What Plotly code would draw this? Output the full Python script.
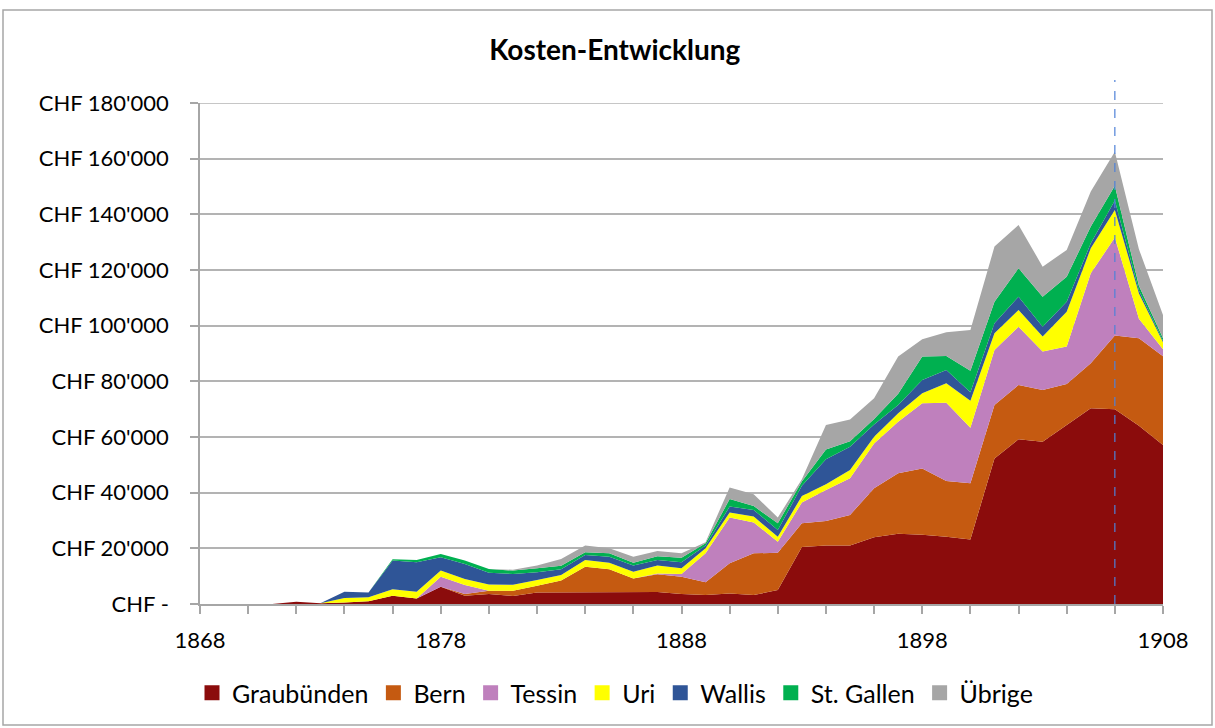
import plotly.graph_objects as go

years = list(range(1868, 1909))

graubuenden = [0, 0, 0, 0, 800, 300, 500, 1000, 3000, 2000,
               6200, 3000, 3600, 2900, 4100, 4100, 4100, 4100, 4200, 4300,
               3600, 3200, 3800, 3200, 5000, 20500, 21000, 21000, 24000, 25200,
               24900, 24200, 23200, 52300, 59200, 58300, 64300, 70300, 70000, 64000,
               57100]
bern = [0, 0, 0, 0, 0, 0, 0, 0, 0, 0,
        0, 600, 1200, 1900, 2500, 4300, 9300, 8400, 5000, 6400,
        6200, 4600, 10800, 15000, 13400, 8500, 8800, 11000, 17600, 21800,
        23800, 20000, 20200, 19200, 19500, 18600, 14700, 16200, 26500, 31500,
        31900]
tessin = [0, 0, 0, 0, 0, 0, 0, 0, 0, 0,
          3600, 3200, 0, 0, 0, 0, 0, 0, 0, 300,
          1000, 10400, 16500, 11100, 4000, 7500, 11200, 13200, 16100, 18500,
          23400, 28100, 19900, 19800, 20900, 13800, 13500, 32300, 35200, 7000,
          2500]
uri = [0, 0, 0, 0, 0, 0, 1700, 1400, 2300, 2400,
       2200, 2200, 2200, 2100, 2000, 2000, 2400, 2300, 2400, 2800,
       2000, 1800, 1800, 2100, 1800, 2300, 2000, 2900, 2400, 3000,
       3600, 7000, 9700, 6000, 6000, 5400, 12500, 9000, 9900, 9100,
       2500]
wallis = [0, 0, 0, 0, 0, 0, 2200, 1700, 10300, 10600,
          4800, 5400, 4200, 3900, 2800, 2100, 1800, 2200, 2200, 2000,
          2200, 1000, 2100, 2400, 2400, 3700, 9000, 8400, 4400, 3000,
          4800, 4800, 3100, 3600, 4800, 3500, 3600, 1800, 3400, 1000,
          600]
st_gallen = [0, 0, 0, 0, 0, 0, 0, 0, 500, 800,
             1200, 1200, 1400, 1200, 1400, 1200, 1000, 1200, 1000, 1400,
             1600, 800, 2700, 1400, 2400, 1500, 3500, 2000, 2000, 4000,
             8400, 5000, 7700, 7700, 10200, 10800, 9000, 6000, 5300, 1700,
             900]
uebrige = [0, 0, 0, 0, 0, 0, 0, 0, 0, 0,
           0, 0, 0, 300, 1000, 2500, 2400, 1800, 2200, 1800,
           1600, 400, 4200, 4200, 2100, 800, 8800, 7800, 7400, 13400,
           6200, 8500, 14600, 19800, 15600, 10800, 9600, 12600, 12200, 13200,
           8300]

series_names = ["Graubünden", "Bern", "Tessin", "Uri", "Wallis", "St. Gallen", "Übrige"]
series_values = [graubuenden, bern, tessin, uri, wallis, st_gallen, uebrige]
series_colors = ["#8B0C0C", "#C55A11", "#BF80BD", "#FFFF00", "#2F5597", "#00B050", "#A6A6A6"]

y_tick_values = [0, 20000, 40000, 60000, 80000, 100000, 120000, 140000, 160000, 180000]
y_tick_labels = ["CHF -", "CHF 20'000", "CHF 40'000", "CHF 60'000", "CHF 80'000",
                 "CHF 100'000", "CHF 120'000", "CHF 140'000", "CHF 160'000", "CHF 180'000"]
x_tick_values = [1868, 1878, 1888, 1898, 1908]
marker_year = 1906

FONT = "Lato, 'Open Sans', sans-serif"
AXIS_GRAY = "#A6A6A6"

fig = go.Figure()
for name, vals, col in zip(series_names, series_values, series_colors):
    fig.add_trace(go.Scatter(
        x=years, y=vals, name=name, mode="lines",
        stackgroup="one", line=dict(width=0, color=col),
        fillcolor=col, showlegend=False,
    ))
# square legend entries
for name, col in zip(series_names, series_colors):
    fig.add_trace(go.Scatter(
        x=[None], y=[None], name=name, mode="markers",
        marker=dict(symbol="square", size=15, color=col), showlegend=True,
    ))

# plot area pixels: x 200..1163, y 103..604
fig.update_layout(
    width=1215, height=728,
    margin=dict(l=200, r=52, t=103, b=124),
    paper_bgcolor="white", plot_bgcolor="white",
    font=dict(family=FONT, size=22, color="black"),
    title=dict(text="<b>Kosten-Entwicklung</b>", x=0.506, xanchor="center",
               y=1 - 50 / 728, yanchor="middle",
               font=dict(family=FONT, size=28, color="black")),
    showlegend=True,
    legend=dict(orientation="h", x=(615 - 200) / 963, xanchor="center", y=(604 - 693) / 501,
                yanchor="middle", traceorder="normal", font=dict(family=FONT, size=25),
                bgcolor="rgba(0,0,0,0)"),
    xaxis=dict(range=[1868, 1908], tickvals=x_tick_values, ticktext=[str(v) for v in x_tick_values],
               showgrid=False, zeroline=False, showline=True, linecolor=AXIS_GRAY, linewidth=1.5,
               ticks="outside", ticklen=8, tickcolor=AXIS_GRAY, tickwidth=1.5,
               minor=dict(dtick=2, tick0=1868, ticks="outside", ticklen=8,
                          tickcolor=AXIS_GRAY, tickwidth=1.5, showgrid=False),
               tickfont=dict(family=FONT, size=22), ticklabelstandoff=8),
    yaxis=dict(range=[0, 180000], tickvals=y_tick_values, ticktext=y_tick_labels,
               showgrid=True, gridcolor="#B3B3B3", gridwidth=1.5, zeroline=False,
               showline=True, linecolor=AXIS_GRAY, linewidth=1.5,
               ticks="outside", ticklen=8, tickcolor=AXIS_GRAY, tickwidth=1.5,
               tickfont=dict(family=FONT, size=22), ticklabelstandoff=17),
)

# top gridline at the range edge
fig.add_shape(type="line", xref="paper", yref="y", x0=0, x1=1,
              y0=y_tick_values[-1], y1=y_tick_values[-1],
              line=dict(color="#B3B3B3", width=1.5), layer="below")

# vertical dashed marker line
fig.add_shape(type="line", xref="x", yref="paper", x0=marker_year, x1=marker_year,
              y0=0, y1=(604 - 80) / 501, line=dict(color="#4F81D8", width=1.2, dash="dash"))

# outer chart border
fig.add_shape(type="rect", xref="paper", yref="paper",
              x0=(3 - 200) / 963, x1=(1212 - 200) / 963,
              y0=(604 - 725) / 501, y1=(604 - 10) / 501,
              line=dict(color="#A6A6A6", width=1.5), fillcolor="rgba(0,0,0,0)", layer="below")

fig.write_html("out.html", config={"displayModeBar": False},
               post_script="document.body.style.margin='0';")
